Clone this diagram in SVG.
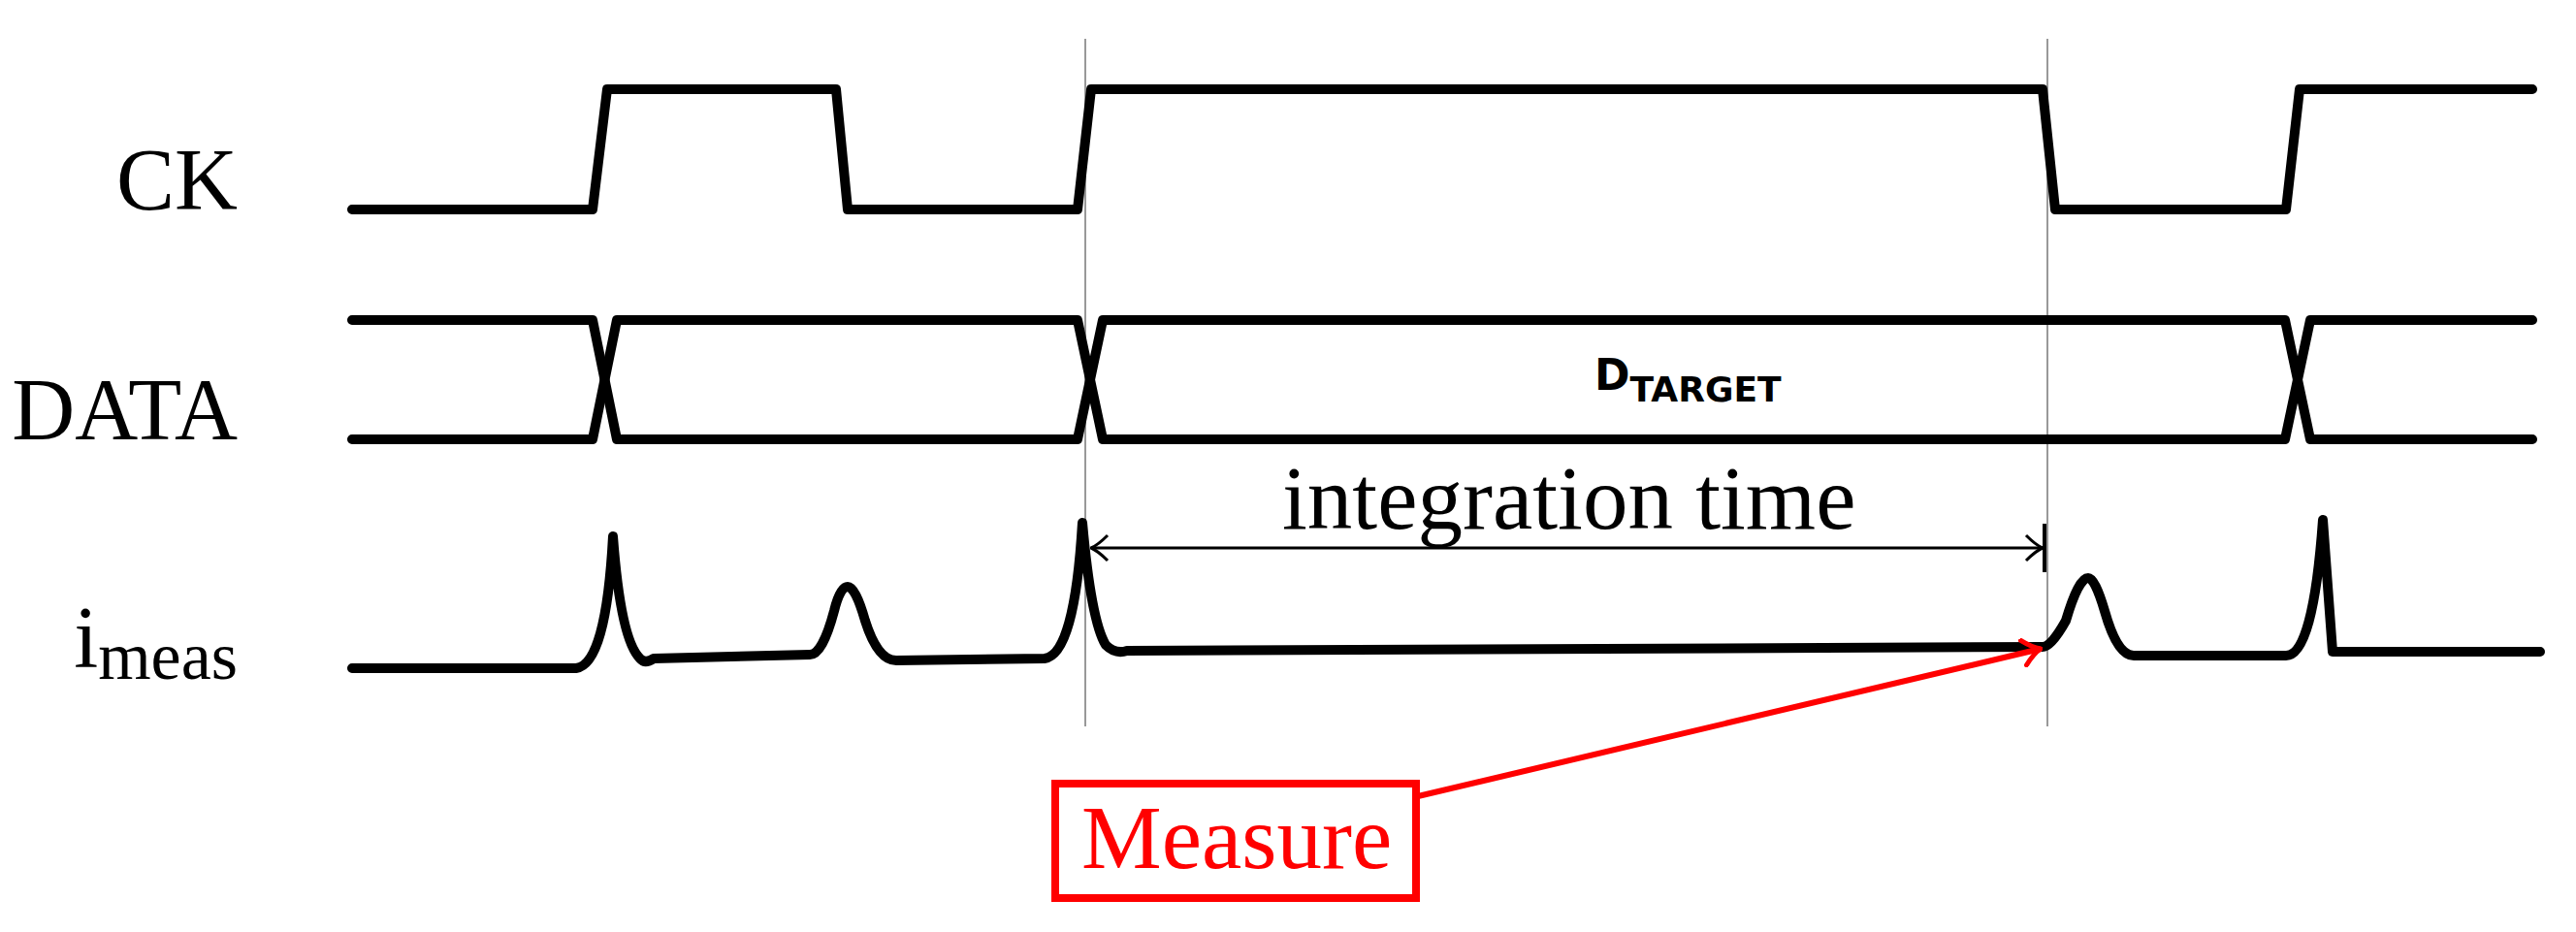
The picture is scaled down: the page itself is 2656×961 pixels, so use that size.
<svg xmlns="http://www.w3.org/2000/svg" width="2656" height="961" viewBox="0 0 2656 961">
<style>
.sig{fill:none;stroke:#000;stroke-width:10;stroke-linecap:round;stroke-linejoin:round}
.guide{stroke:#999;stroke-width:2}
.lbl{font-family:"Liberation Serif",serif;font-size:90px;fill:#000}
</style>
<defs>
<marker id="oa" viewBox="0 0 20 30" refX="19" refY="15" markerWidth="20" markerHeight="30" markerUnits="userSpaceOnUse" orient="auto-start-reverse">
<path d="M2,2 Q12,12 19,15 Q12,18 2,28" fill="none" stroke="#000" stroke-width="3"/>
</marker>
<marker id="ra" viewBox="0 0 24 30" refX="22" refY="15" markerWidth="24" markerHeight="30" markerUnits="userSpaceOnUse" orient="auto">
<path d="M4,2 Q14,12 22,15 Q14,18 4,28" fill="none" stroke="#f00" stroke-width="5" stroke-linecap="round"/>
</marker>
</defs>
<g id="guides">
<line class="guide" x1="1119" y1="40" x2="1119" y2="749"/>
<line class="guide" x1="2111" y1="40" x2="2111" y2="749"/>
</g>
<g id="ck">
<text class="lbl" x="245" y="216" text-anchor="end">CK</text>
<path class="sig" d="M363,216 H611 L626,92 H862 L874,216 H1111 L1125,92 H2106 L2119,216 H2357 L2371,92 H2611"/>
</g>
<g id="data">
<text class="lbl" x="245" y="453" text-anchor="end">DATA</text>
<path class="sig" d="M363,330 H611 L636,453 H1111 L1137,330 H2356 L2382,453 H2611"/>
<path class="sig" d="M363,453 H611 L636,330 H1111 L1137,453 H2356 L2382,330 H2611"/>
<text x="1644" y="402" font-family="DejaVu Sans, sans-serif" font-size="44" font-weight="600">D<tspan font-size="36" dy="12">TARGET</tspan></text>
</g>
<g id="imeas">
<text class="lbl" x="245" y="688" text-anchor="end">i<tspan font-size="70" dy="12">meas</tspan></text>
<path class="sig" d="M363,689 H594 Q625,685 632,553 Q640,660 660,679 Q665,685 674,679 L835,675 Q848,675 860,630 Q866,605 874,605 Q882,605 892,640 Q905,681 924,681 L1077,679 Q1108,675 1116,539 Q1125,640 1140,665 Q1150,675 1162,671 L2106,667 Q2115,667 2130,640 Q2143,596 2153,596 Q2160,596 2170,630 Q2183,676 2200,676 L2357,676 Q2385,676 2395,536 L2405,672 H2619"/>
</g>
<g id="connectors">
<line x1="1125" y1="565" x2="2106" y2="565" stroke="#000" stroke-width="3" marker-start="url(#oa)" marker-end="url(#oa)"/>
<line x1="2108" y1="540" x2="2108" y2="590" stroke="#000" stroke-width="4"/>
<line x1="1462" y1="821" x2="2104" y2="669" stroke="#f00" stroke-width="6" marker-end="url(#ra)"/>
</g>
<text class="lbl" x="1322" y="545" font-size="93" style="font-size:93px">integration time</text>
<g id="measure">
<rect x="1088" y="808" width="372" height="118" fill="#fff" stroke="#f00" stroke-width="8"/>
<text class="lbl" x="1115" y="895" style="fill:#f00;font-size:93px">Measure</text>
</g>
</svg>
